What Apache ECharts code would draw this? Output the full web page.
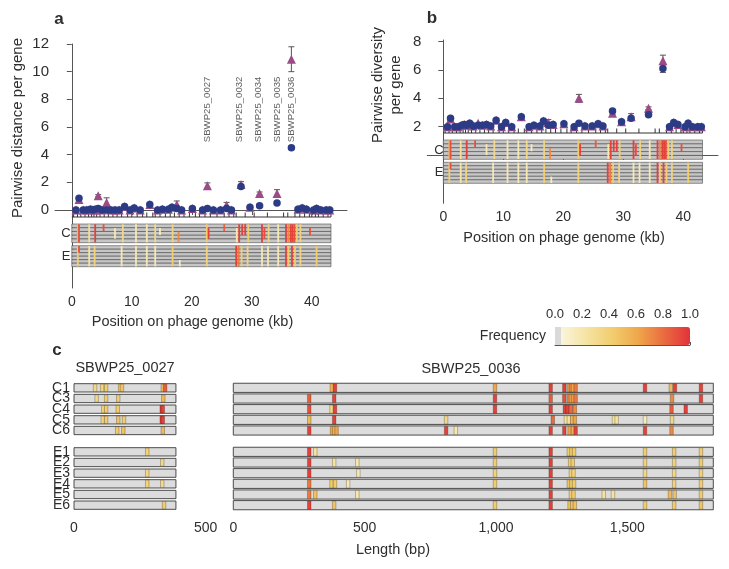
<!DOCTYPE html>
<html><head><meta charset="utf-8">
<script src="https://cdn.jsdelivr.net/npm/echarts@6/dist/echarts.min.js"></script>
<style>html,body{margin:0;padding:0;background:#fff}#c{width:729px;height:569px}</style>
</head><body><div id="c"></div>
<script>
// ---------------- DATA ----------------
const genomeLen = 43.2; // kb
const genePos = [0.7,1.2,1.9,2.5,3.1,3.5,3.9,4.4,5.0,5.8,6.5,7.2,7.9,8.8,9.7,10.4,11.4,13.0,14.3,15.1,16.1,16.7,17.5,18.3,20.1,21.8,22.6,23.6,24.8,25.8,26.6,28.2,29.7,31.3,34.2,36.6,37.7,38.4,39.1,40.3,40.8,41.5,42.4,43.0];
// panel a: pairwise distance per gene (C = triangles, E = circles)
const distC = [0,0.75,0,0,0.05,0,0,1.03,0,0.55,0,0,0,0.25,0,0.15,0,0.4,0,0.05,0.05,0.2,0.4,0,0.1,0,1.76,0,0,0.35,0,1.85,0.2,1.2,1.2,10.9,0.05,0.15,0.05,0,0.1,0,0,0];
const distE = [0,0.85,0,0,0.05,0,0.05,0.1,0,0,0,0,0,0.25,0,0.15,0,0.4,0,0.05,0.05,0.2,0.1,0,0.1,0,0.1,0,0,0.1,0,1.7,0.2,0.3,0.5,4.5,0.05,0.15,0.05,0,0.1,0,0,0];
const distCerr = [0,0.1,0,0,0,0,0,0.08,0,0.33,0,0,0,0,0,0,0,0.08,0,0,0,0,0.25,0,0,0,0.2,0,0,0.2,0,0.2,0,0.1,0.27,0.9,0,0,0,0,0,0,0,0];
const distEerr = [0,0.08,0,0,0,0,0,0,0,0,0,0,0,0,0,0,0,0,0,0,0,0,0,0,0,0,0,0,0,0,0,0.1,0,0,0,0.12,0,0,0,0,0,0,0,0];
// panel b: pairwise diversity per gene
const divC = [2.0,2.55,2.0,2.0,2.1,2.15,2.1,2.25,2.05,2.25,2.1,2.15,2.05,2.45,2.0,2.3,2.0,2.7,2.0,2.1,2.05,2.4,2.3,2.15,2.2,2.0,4.0,2.05,2.05,2.2,2.05,2.95,2.35,2.7,3.3,6.65,2.0,2.3,2.15,2.0,2.25,2.0,2.0,2.0];
const divE = [2.0,2.6,2.0,2.0,2.1,2.15,2.1,2.25,2.05,2.1,2.1,2.15,2.05,2.45,2.0,2.3,2.0,2.7,2.0,2.1,2.05,2.4,2.1,2.15,2.2,2.0,2.25,2.05,2.05,2.2,2.05,3.1,2.35,2.6,2.85,6.1,2.0,2.3,2.15,2.0,2.25,2.0,2.0,2.0];
const divCerr = [0,0.08,0,0,0,0,0,0,0,0,0,0,0,0,0,0,0,0.08,0,0,0,0,0.2,0,0,0,0.28,0,0,0,0,0.08,0,0.22,0.1,0.4,0,0,0,0,0,0,0,0];
const divEerr = [0,0,0,0,0,0,0,0,0,0,0,0,0,0,0,0,0,0,0,0,0,0,0,0,0,0,0,0,0,0,0,0.08,0,0,0,0.27,0,0,0,0,0,0,0,0];
const geneBounds = [0.3,0.95,1.5,2.2,2.8,3.3,3.7,4.15,4.7,5.4,6.1,6.85,7.55,8.3,9.3,10.0,10.9,11.8,12.5,13.5,13.9,14.7,15.6,16.4,17.1,17.9,18.7,19.6,20.6,21.3,22.2,23.1,24.2,25.4,26.2,27.0,27.4,28.9,30.4,32.6,35.3,36.0,37.2,38.0,38.8,39.6,40.0,40.6,41.1,41.9,42.7,43.2];
const labelGenes = ['SBWP25_0027','SBWP25_0032','SBWP25_0034','SBWP25_0035','SBWP25_0036'];
const labelGenePos = [22.6,28.0,31.1,34.2,36.6];
const labelGeneY = 4.9;
// genome heat map stripes: [kb, rowFrom, rowTo, frequency]
const rowsC = ['C1','C3','C4','C5','C6'];
const rowsE = ['E1','E2','E3','E4','E5','E6'];
const heatC = [[1.0,0,5,0.5],[1.2,0,5,0.9],[2.9,0,5,0.25],[3.9,0,5,0.95],[5.3,0,2,0.9],[7.2,1,4,0.15],[8.5,0,5,0.3],[10.7,0,5,0.15],[12.5,0,5,0.15],[13.9,0,5,0.3],[14.7,1,3,0.1],[16.8,0,5,0.35],[17.8,2,5,0.7],[22.5,0,5,0.4],[22.8,1,4,0.95],[25.4,0,2,0.85],[27.5,1,5,0.15],[27.9,0,5,0.95],[28.4,0,3,0.95],[28.9,0,3,0.95],[29.4,0,5,0.4],[31.7,0,5,0.95],[32.1,1,4,0.9],[32.8,0,5,0.35],[34.4,0,5,0.15],[35.7,0,5,0.95],[36.1,0,5,0.7],[36.5,0,5,0.95],[36.8,0,5,0.95],[37.1,0,5,0.9],[37.5,0,5,0.4],[38.1,0,5,0.35],[39.7,1,3,0.9]];
const heatE = [[1.0,0,6,0.4],[1.2,0,2,0.9],[2.9,0,6,0.2],[3.8,0,6,0.35],[8.3,0,6,0.15],[10.7,0,6,0.15],[12.5,0,6,0.15],[13.9,0,6,0.15],[16.8,0,6,0.4],[18.0,4,6,0.1],[22.5,0,6,0.35],[27.4,0,6,0.95],[27.8,0,6,0.75],[28.3,0,6,0.4],[29.3,0,6,0.35],[31.7,0,6,0.15],[32.7,0,6,0.15],[34.4,0,6,0.15],[35.7,0,6,0.95],[36.1,0,6,0.4],[36.7,0,6,0.95],[37.2,0,6,0.4],[38.1,0,6,0.35],[40.8,0,6,0.4]];
// colour bar
const freqTicks = [0,0.2,0.4,0.6,0.8,1.0];
const zeroBox = [[0,0.045]];
// panel c: per-sample variant maps [bp, rowIndex, frequency]; rows: C1,C3,C4,C5,C6,(gap),E1..E6
const rowCats = ['C1','C3','C4','C5','C6','','E1','E2','E3','E4','E5','E6'];
const len0027 = 387, len0036 = 1827;
const marks0027 = [[80,0,0.3],[107,0,0.35],[122,0,0.4],[175,0,0.45],[182,0,0.45],[337,0,0.5],[346,0,0.85],
 [86,1,0.3],[122,1,0.4],[168,1,0.4],[339,1,0.5],
 [111,2,0.35],[122,2,0.4],[166,2,0.4],[333,2,0.95],[337,2,0.95],
 [109,3,0.35],[122,3,0.4],[168,3,0.45],[190,3,0.4],[333,3,0.95],[337,3,0.95],
 [164,4,0.4],[187,4,0.45],[337,4,0.5],
 [278,6,0.35],[335,7,0.3],[278,8,0.3],[278,9,0.35],[335,9,0.3],[342,11,0.4]];
const marks0036 = [
 [375,0,0.55],[387,0,0.95],[996,0,0.6],[1208,0,0.95],[1260,0,0.95],[1277,0,0.6],[1285,0,0.7],[1293,0,0.6],[1303,0,0.75],[1567,0,0.95],[1665,0,0.5],[1681,0,0.95],[1780,0,0.95],
 [289,1,0.85],[384,1,0.95],[996,1,0.95],[1208,1,0.85],[1260,1,0.9],[1277,1,0.7],[1285,1,0.6],[1293,1,0.65],[1303,1,0.75],[1670,1,0.7],[1780,1,0.95],
 [289,2,0.9],[374,2,0.3],[387,2,0.95],[996,2,0.95],[1208,2,0.95],[1262,2,0.95],[1272,2,0.95],[1285,2,0.8],[1300,2,0.7],[1668,2,0.85],[1722,2,0.95],
 [289,3,0.5],[384,3,0.95],[810,3,0.3],[1216,3,0.8],[1266,3,0.2],[1277,3,0.2],[1290,3,0.5],[1300,3,0.6],[1449,3,0.2],[1459,3,0.2],[1567,3,0.1],[1670,3,0.3],
 [289,4,0.95],[376,4,0.6],[384,4,0.55],[393,4,0.6],[810,4,0.95],[847,4,0.15],[1208,4,0.95],[1260,4,0.95],[1280,4,0.6],[1293,4,0.55],[1303,4,0.95],[1567,4,0.95],[1668,4,0.7],
 [289,6,0.95],[312,6,0.2],[996,6,0.4],[1208,6,0.95],[1277,6,0.4],[1287,6,0.4],[1297,6,0.4],[1567,6,0.4],[1678,6,0.4],[1780,6,0.4],
 [289,7,0.95],[384,7,0.2],[472,7,0.15],[996,7,0.4],[1208,7,0.95],[1282,7,0.4],[1292,7,0.4],[1567,7,0.35],[1678,7,0.35],[1780,7,0.4],
 [289,8,0.95],[476,8,0.15],[996,8,0.35],[1208,8,0.95],[1285,8,0.35],[1295,8,0.35],[1567,8,0.3],[1678,8,0.3],[1780,8,0.35],
 [289,9,0.75],[374,9,0.4],[387,9,0.4],[437,9,0.15],[996,9,0.4],[1208,9,0.95],[1277,9,0.45],[1287,9,0.4],[1297,9,0.4],[1567,9,0.45],[1678,9,0.35],[1780,9,0.4],
 [289,10,0.75],[312,10,0.45],[472,10,0.15],[1208,10,0.95],[1285,10,0.4],[1295,10,0.4],[1410,10,0.2],[1445,10,0.2],[1662,10,0.5],[1680,10,0.45],[1780,10,0.4],
 [289,11,0.95],[384,11,0.45],[996,11,0.4],[1208,11,0.95],[1280,11,0.45],[1290,11,0.45],[1300,11,0.45],[1567,11,0.4],[1678,11,0.4],[1780,11,0.45]];

// ---------------- STYLE ----------------
const FONT = '"Liberation Sans", Arial, sans-serif';
const TXT = '#2e2e2e', AX = '#555';
const TRI = '#9b4c86', CIR = '#2c3b86', ERR = '#555';
const heatColors = ['#faf5dc','#f5e3a2','#f1cd6e','#efa64a','#ea6b3f','#e2323b'];

const chart = echarts.init(document.getElementById('c'));

const grids = [
  {left:55, top:44, width:292, height:244},        //0 a main
  {left:55, top:212.5, width:292, height:4.5},     //1 a gene track
  {left:55, top:224, width:292, height:18.7},      //2 a heat C
  {left:55, top:245.7, width:292, height:21},      //3 a heat E
  {left:427.3, top:40, width:290.7, height:163.3}, //4 b main
  {left:427.3, top:128.5, width:290.7, height:4.5},//5 b gene track
  {left:427.3, top:140, width:290.7, height:19.3}, //6 b heat C
  {left:427.3, top:162.3, width:290.7, height:21}, //7 b heat E
  {left:555, top:327, width:135, height:18},       //8 colour bar
  {left:74, top:382.5, width:131.7, height:128},   //9 c left
  {left:233.3, top:382.5, width:480, height:128}   //10 c right
];
const lbl = {color:TXT, fontSize:14, fontFamily:FONT};
const hiddenX = (g,min,max)=>({gridIndex:g,type:'value',min,max,show:false});
const hiddenY = (g,min,max,inv)=>({gridIndex:g,type:'value',min,max,inverse:!!inv,show:false});
const kbTicks = [0,10,20,30,40];

const xAxes = [
  {gridIndex:0,type:'value',min:-2.8,max:45.87,splitLine:{show:false},axisLine:{lineStyle:{color:AX}},
   axisTick:{customValues:kbTicks,length:5,lineStyle:{color:AX}},axisLabel:Object.assign({customValues:kbTicks,margin:7},lbl)},
  hiddenX(1,-2.8,45.87), hiddenX(2,-2.8,45.87), hiddenX(3,-2.8,45.87),
  {gridIndex:4,type:'value',min:-2.67,max:45.78,splitLine:{show:false},axisLine:{lineStyle:{color:AX}},
   axisTick:{customValues:kbTicks,length:5,lineStyle:{color:AX}},axisLabel:Object.assign({customValues:kbTicks,margin:7},lbl)},
  hiddenX(5,-2.67,45.78), hiddenX(6,-2.67,45.78), hiddenX(7,-2.67,45.78),
  {gridIndex:8,type:'value',position:'top',offset:3,min:0,max:1,interval:0.2,splitLine:{show:false},
   axisLine:{lineStyle:{color:AX}},axisTick:{length:3,lineStyle:{color:AX}},
   axisLabel:Object.assign({margin:3,formatter:v=>v.toFixed(1)},lbl,{fontSize:13})},
  {gridIndex:9,type:'value',min:0,max:500,offset:5,splitLine:{show:false},axisLine:{lineStyle:{color:AX}},
   axisTick:{customValues:[0,500],length:4,lineStyle:{color:AX}},axisLabel:Object.assign({customValues:[0,500],margin:6},lbl)},
  {gridIndex:10,type:'value',min:0,max:len0036,offset:5,splitLine:{show:false},axisLine:{lineStyle:{color:AX}},
   axisTick:{customValues:[0,500,1000,1500],length:4,lineStyle:{color:AX}},
   axisLabel:Object.assign({customValues:[0,500,1000,1500],margin:6,formatter:v=>v.toLocaleString('en-US')},lbl)}
];
const yAxes = [
  {gridIndex:0,type:'value',min:-5.64,max:12,splitLine:{show:false},axisLine:{show:true,lineStyle:{color:AX}},
   axisTick:{show:true,customValues:[0,2,4,6,8,10,12],length:5,lineStyle:{color:AX}},
   axisLabel:Object.assign({customValues:[0,2,4,6,8,10,12],margin:6},lbl,{fontSize:15})},
  hiddenY(1,0,1), hiddenY(2,0,rowsC.length,true), hiddenY(3,0,rowsE.length,true),
  {gridIndex:4,type:'value',min:-3.41,max:8.12,splitLine:{show:false},axisLine:{show:true,lineStyle:{color:AX}},
   axisTick:{show:true,customValues:[2,4,6,8],length:5,lineStyle:{color:AX}},
   axisLabel:Object.assign({customValues:[2,4,6,8],margin:6},lbl,{fontSize:15})},
  hiddenY(5,0,1), hiddenY(6,0,rowsC.length,true), hiddenY(7,0,rowsE.length,true),
  hiddenY(8,0,1),
  {gridIndex:9,type:'category',data:rowCats,inverse:true,axisLine:{show:false},axisTick:{show:false},
   axisLabel:Object.assign({interval:0,margin:4},lbl,{fontSize:14,lineHeight:11})},
  {gridIndex:10,type:'category',data:rowCats,inverse:true,show:false}
];

function errSeries(ai, vals, errs){
  const data=[];
  genePos.forEach((x,i)=>{ if(errs[i]>0) data.push([x, vals[i]-errs[i], vals[i]+errs[i]]); });
  return {type:'custom',xAxisIndex:ai,yAxisIndex:ai,data,z:2,silent:true,encode:{x:0,y:[1,2]},
    renderItem:(p,api)=>{
      const lo=api.coord([api.value(0),api.value(1)]), hi=api.coord([api.value(0),api.value(2)]), c=3;
      const st={stroke:ERR,lineWidth:1};
      return {type:'group',children:[
        {type:'line',shape:{x1:lo[0],y1:lo[1],x2:hi[0],y2:hi[1]},style:st},
        {type:'line',shape:{x1:lo[0]-c,y1:lo[1],x2:lo[0]+c,y2:lo[1]},style:st},
        {type:'line',shape:{x1:hi[0]-c,y1:hi[1],x2:hi[0]+c,y2:hi[1]},style:st}]};
    }};
}
function ptSeries(ai, vals, symbol, color, size){
  return {type:'scatter',xAxisIndex:ai,yAxisIndex:ai,data:genePos.map((x,i)=>[x,vals[i]]),
    symbol,symbolSize:size,itemStyle:{color,opacity:1},z:3,silent:true};
}
function trackSeries(ai){
  return [
    {type:'custom',xAxisIndex:ai,yAxisIndex:ai,data:[[0,genomeLen]],silent:true,encode:{x:[0,1]},
     renderItem:(p,api)=>{const a=api.coord([api.value(0),0]),b=api.coord([api.value(1),0]);
       return {type:'line',shape:{x1:a[0],y1:a[1],x2:b[0],y2:b[1]},style:{stroke:'#333',lineWidth:1}};}},
    {type:'custom',xAxisIndex:ai,yAxisIndex:ai,data:geneBounds.map(b=>[b]),silent:true,encode:{x:0},
     renderItem:(p,api)=>{const a=api.coord([api.value(0),0]),b=api.coord([api.value(0),1]);
       return {type:'line',shape:{x1:a[0],y1:a[1],x2:b[0],y2:b[1]},style:{stroke:'#333',lineWidth:1}};}}
  ];
}
function heatBg(ai, n){
  const data=[]; for(let r=0;r<n;r++) data.push([genomeLen,r]);
  return {type:'custom',xAxisIndex:ai,yAxisIndex:ai,data,silent:true,encode:{x:0,y:1},
    renderItem:(p,api)=>{const r=api.value(1),a=api.coord([0,r]),b=api.coord([api.value(0),r+1]);
      return {type:'rect',shape:{x:a[0],y:Math.min(a[1],b[1]),width:b[0]-a[0],height:Math.abs(b[1]-a[1])},
        style:{fill:'#c6c6c6',stroke:'#4a4a4a',lineWidth:0.6}};}};
}
function heatStripes(ai, data){
  return {type:'custom',xAxisIndex:ai,yAxisIndex:ai,data,silent:true,encode:{x:0,y:[1,2]},z:3,
    renderItem:(p,api)=>{const a=api.coord([api.value(0),api.value(1)]),b=api.coord([api.value(0),api.value(2)]);
      return {type:'rect',shape:{x:a[0]-0.9,y:Math.min(a[1],b[1])+0.3,width:1.8,height:Math.abs(b[1]-a[1])-0.6},
        style:{fill:api.visual('color')}};}};
}
function geneBg(ai, len, frac){
  const data=[]; rowCats.forEach((c,i)=>{ if(c) data.push([len,i]); });
  return {type:'custom',xAxisIndex:ai,yAxisIndex:ai,data,silent:true,encode:{x:0,y:1},
    renderItem:(p,api)=>{const i=api.value(1),h=api.size([0,1])[1]*frac,a=api.coord([0,i]),b=api.coord([api.value(0),i]);
      return {type:'rect',shape:{x:a[0],y:a[1]-h/2,width:b[0]-a[0],height:h},
        style:{fill:'#dcdcdc',stroke:'#3a3a3a',lineWidth:0.9}};}};
}
function geneMarks(ai, data, frac){
  return {type:'custom',xAxisIndex:ai,yAxisIndex:ai,data,silent:true,encode:{x:0,y:1},z:3,
    renderItem:(p,api)=>{const h=api.size([0,1])[1]*frac,a=api.coord([api.value(0),api.value(1)]);
      return {type:'rect',shape:{x:a[0]-1.75,y:a[1]-h/2+0.5,width:3.5,height:h-1},
        style:{fill:api.visual('color'),stroke:'rgba(40,30,0,0.55)',lineWidth:0.5}};}};
}

const series = [];
const idx = {};
// panel a
series.push(errSeries(0,distC,distCerr), errSeries(0,distE,distEerr));
series.push(ptSeries(0,distC,'triangle',TRI,9), ptSeries(0,distE,'circle',CIR,7.5));
series.push({type:'scatter',xAxisIndex:0,yAxisIndex:0,silent:true,symbolSize:1,itemStyle:{color:'rgba(0,0,0,0)'},
  data:labelGenes.map((n,i)=>[labelGenePos[i],labelGeneY,n]),
  label:{show:true,position:'inside',rotate:90,align:'left',verticalAlign:'middle',formatter:p=>p.value[2],
    color:'#333',fontSize:9.6,fontFamily:FONT}});
series.push(...trackSeries(1));
series.push(heatBg(2,rowsC.length)); idx.haC=series.length; series.push(heatStripes(2,heatC));
series.push(heatBg(3,rowsE.length)); idx.haE=series.length; series.push(heatStripes(3,heatE));
// panel b
series.push(errSeries(4,divC,divCerr), errSeries(4,divE,divEerr));
series.push(ptSeries(4,divC,'triangle',TRI,9), ptSeries(4,divE,'circle',CIR,7.5));
series.push(...trackSeries(5));
series.push(heatBg(6,rowsC.length)); idx.hbC=series.length; series.push(heatStripes(6,heatC));
series.push(heatBg(7,rowsE.length)); idx.hbE=series.length; series.push(heatStripes(7,heatE));
// colour bar zero box
series.push({type:'custom',xAxisIndex:8,yAxisIndex:8,data:zeroBox,silent:true,encode:{x:[0,1]},
  renderItem:(p,api)=>{const a=api.coord([api.value(0),0]),b=api.coord([api.value(1),1]);
    return {type:'rect',shape:{x:a[0],y:b[1],width:b[0]-a[0],height:a[1]-b[1]},style:{fill:'#d9d9d9'}};}});
// panel c
series.push(geneBg(9,len0027,0.78)); idx.m1=series.length; series.push(geneMarks(9,marks0027,0.78));
series.push(geneBg(10,len0036,0.86)); idx.m2=series.length; series.push(geneMarks(10,marks0036,0.86));

const T = (text,x,y,opt)=>Object.assign({type:'text',x,y,silent:true,style:Object.assign({text,fill:TXT,font:'14px '+FONT,textAlign:'center',textVerticalAlign:'middle'},opt||{})});
const graphic = [
  T('a',59,19,{font:'bold 17px '+FONT}),
  T('b',432,18,{font:'bold 17px '+FONT}),
  T('c',57,350,{font:'bold 17px '+FONT}),
  Object.assign(T('Pairwise distance per gene',0,0,{font:'15px '+FONT}),{x:18,y:128,rotation:Math.PI/2}),
  Object.assign(T('Pairwise diversity',0,0,{font:'15px '+FONT}),{x:378,y:85,rotation:Math.PI/2}),
  Object.assign(T('per gene',0,0,{font:'15px '+FONT}),{x:396,y:85,rotation:Math.PI/2}),
  T('Position on phage genome (kb)',192.5,322,{font:'14.5px '+FONT}),
  T('Position on phage genome (kb)',564,238,{font:'14.5px '+FONT}),
  T('C',66,233,{font:'13px '+FONT}), T('E',66,256,{font:'13px '+FONT}),
  T('C',439,150,{font:'13px '+FONT}), T('E',439,172,{font:'13px '+FONT}),
  T('Frequency',546,336,{textAlign:'right'}),
  T('SBWP25_0027',125,368,{font:'14.5px '+FONT}),
  T('SBWP25_0036',471,369,{font:'14.5px '+FONT}),
  T('Length (bp)',393,550,{font:'14.5px '+FONT})
];

chart.setOption({
  animation:false,
  backgroundColor:'#fff',
  grid:grids,
  xAxis:xAxes,
  yAxis:yAxes,
  visualMap:[
    {type:'continuous',min:0,max:1,dimension:3,seriesIndex:[idx.haC,idx.haE,idx.hbC,idx.hbE],
     orient:'horizontal',left:561,top:327,itemWidth:18,itemHeight:129,padding:0,calculable:false,
     hoverLink:false,text:null,inRange:{color:heatColors}},
    {type:'continuous',min:0,max:1,dimension:2,seriesIndex:[idx.m1,idx.m2],show:false,inRange:{color:heatColors}}
  ],
  graphic,
  series
});
</script></body></html>
